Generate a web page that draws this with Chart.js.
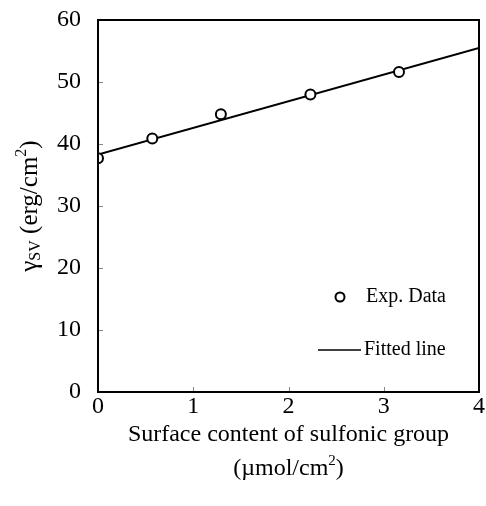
<!DOCTYPE html>
<html>
<head>
<meta charset="utf-8">
<script src="https://cdn.jsdelivr.net/npm/chart.js@4/dist/chart.umd.min.js"></script>
<style>
	html, body { margin: 0; padding: 0; background: #fff; }
	#quadro { width: 486px; height: 506px; }
</style>
</head>
<body>
<div id="quadro"><canvas id="graficoEnergia"></canvas></div>
<script>
// valores medidos e reta ajustada
var conteudoSulfonico = [0, 0.57, 1.29, 2.23, 3.16];
var energiaSuperficial = [37.7, 40.9, 44.8, 48.0, 51.6];
var retaX = [0, 4];
var retaY = [38.3, 55.5];
var legendas = ['Exp. Data', 'Fitted line'];

var FONTE = "'Liberation Serif', 'Times New Roman', serif";

// escreve um texto em partes (indice / expoente), centrado em x
function escreveComposto(ctx, partes, x, y) {
	var total = 0;
	partes.forEach(function(p) {
		ctx.font = p.size + 'px ' + FONTE;
		p.w = ctx.measureText(p.t).width;
		total += p.w;
	});
	var cx = x - total / 2;
	partes.forEach(function(p) {
		ctx.font = p.size + 'px ' + FONTE;
		ctx.fillText(p.t, cx, y + (p.dy || 0));
		cx += p.w;
	});
}

var molduraPlugin = {
	id: 'moldura',
	afterDraw: function(chart) {
		var ctx = chart.ctx;
		var area = chart.chartArea;
		var sx = chart.scales.x, sy = chart.scales.y;
		ctx.save();

		// marcas internas dos eixos
		ctx.strokeStyle = '#888';
		ctx.lineWidth = 1;
		ctx.beginPath();
		for (var v = 10; v < 60; v += 10) {
			var py = Math.round(sy.getPixelForValue(v)) + 0.5;
			ctx.moveTo(area.left, py);
			ctx.lineTo(area.left + 5, py);
		}
		for (var u = 1; u < 4; u++) {
			var px = Math.round(sx.getPixelForValue(u)) + 0.5;
			ctx.moveTo(px, area.bottom);
			ctx.lineTo(px, area.bottom - 5);
		}
		ctx.stroke();

		// caixa do grafico
		ctx.strokeStyle = '#000';
		ctx.lineWidth = 2;
		ctx.strokeRect(area.left, area.top, area.right - area.left, area.bottom - area.top);

		ctx.fillStyle = '#000';
		ctx.textBaseline = 'alphabetic';

		// titulo do eixo x, em duas linhas
		var cx = (area.left + area.right) / 2;
		escreveComposto(ctx, [{ t: 'Surface content of sulfonic group', size: 24 }], cx, 441);
		escreveComposto(ctx, [
			{ t: '(\u00b5mol/cm', size: 24 },
			{ t: '2', size: 15, dy: -10 },
			{ t: ')', size: 24 }
		], cx, 475);

		// titulo do eixo y, girado
		ctx.save();
		ctx.translate(37, 206);
		ctx.rotate(-Math.PI / 2);
		escreveComposto(ctx, [
			{ t: '\u03b3', size: 25 },
			{ t: 'SV', size: 16, dy: 3 },
			{ t: ' (erg/cm', size: 25 },
			{ t: '2', size: 16, dy: -11 },
			{ t: ')', size: 25 }
		], 0, 0);
		ctx.restore();

		// legenda dentro da area
		var ly1 = 297, ly2 = 350;
		ctx.beginPath();
		ctx.lineWidth = 2;
		ctx.fillStyle = '#fff';
		ctx.arc(340, ly1, 4.5, 0, Math.PI * 2);
		ctx.fill();
		ctx.stroke();
		ctx.beginPath();
		ctx.lineWidth = 1.5;
		ctx.moveTo(318, ly2);
		ctx.lineTo(361, ly2);
		ctx.stroke();
		ctx.fillStyle = '#000';
		ctx.font = '20px ' + FONTE;
		ctx.textAlign = 'left';
		ctx.textBaseline = 'middle';
		ctx.fillText(legendas[0], 366, ly1);
		ctx.fillText(legendas[1], 364, ly2);

		ctx.restore();
	}
};

function iniciarGrafico() {
	var ctx = document.getElementById('graficoEnergia').getContext('2d');

	var pontos = conteudoSulfonico.map(function(x, i) { return { x: x, y: energiaSuperficial[i] }; });
	var reta = retaX.map(function(x, i) { return { x: x, y: retaY[i] }; });

	new Chart(ctx, {
		type: 'scatter',
		data: {
			datasets: [{
				label: legendas[1],
				type: 'line',
				data: reta,
				borderColor: '#000',
				borderWidth: 2,
				pointRadius: 0,
				fill: false,
				order: 2
			}, {
				label: legendas[0],
				data: pontos,
				pointRadius: 5,
				pointBorderWidth: 2,
				pointBorderColor: '#000',
				pointBackgroundColor: '#fff',
				order: 1
			}]
		},
		options: {
			responsive: true,
			maintainAspectRatio: false,
			animation: false,
			layout: { padding: { top: 20, right: 2, left: 0, bottom: 0 } },
			plugins: {
				legend: { display: false },
				tooltip: { enabled: false }
			},
			scales: {
				x: {
					type: 'linear',
					min: 0,
					max: 4,
					ticks: { stepSize: 1, padding: 0, color: '#000', font: { family: FONTE, size: 24 } },
					grid: { display: false, drawTicks: false },
					border: { display: false },
					afterFit: function(scale) {
						scale.height = 114;
						scale.paddingLeft = 0;
						scale.paddingRight = 0;
					}
				},
				y: {
					min: 0,
					max: 60,
					ticks: { stepSize: 10, padding: 17, color: '#000', font: { family: FONTE, size: 24 } },
					grid: { display: false, drawTicks: false },
					border: { display: false },
					afterFit: function(scale) {
						scale.width = 98;
						scale.paddingTop = 0;
						scale.paddingBottom = 0;
					}
				}
			}
		},
		plugins: [molduraPlugin]
	});
}

iniciarGrafico();
</script>
</body>
</html>
